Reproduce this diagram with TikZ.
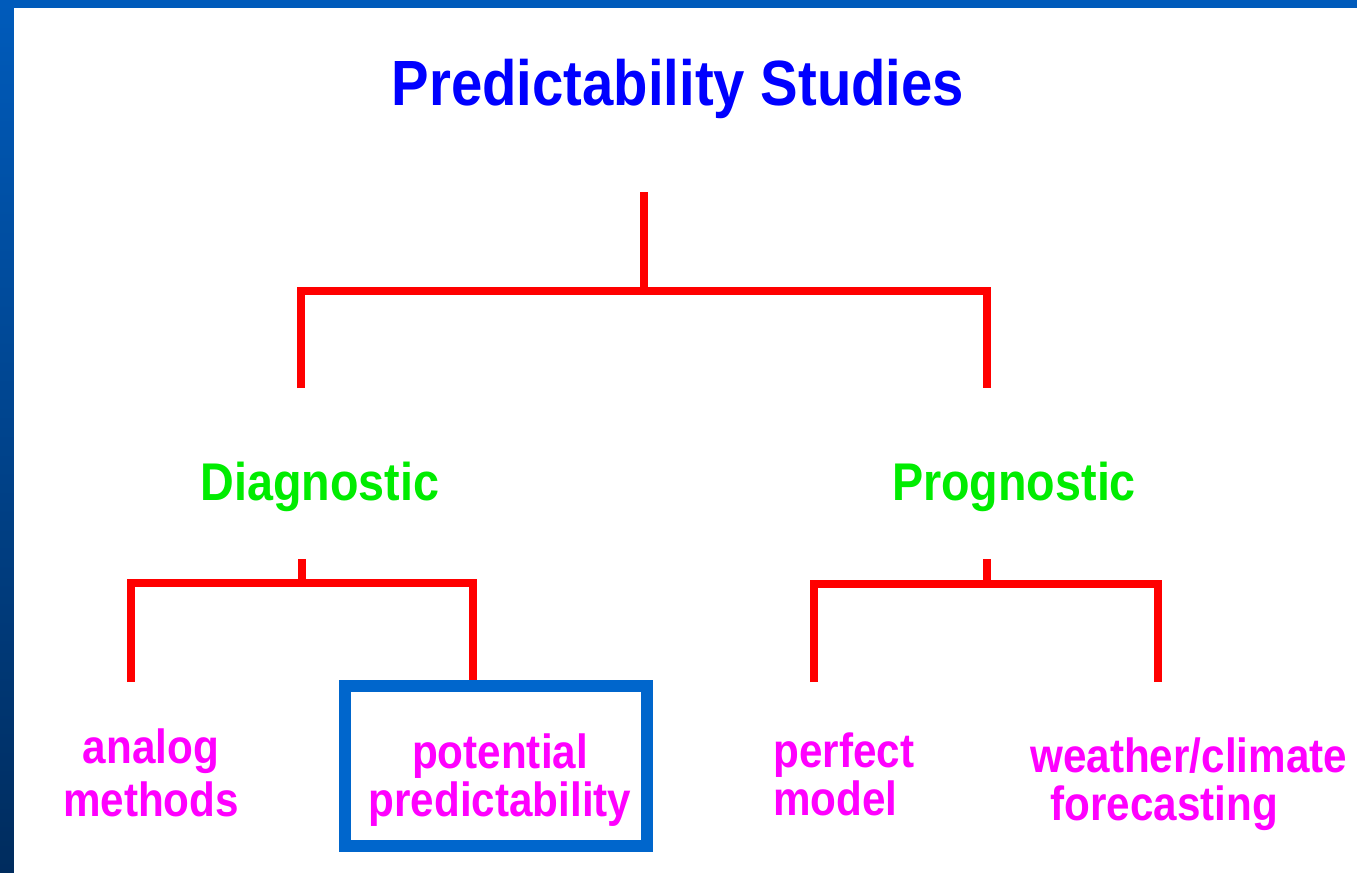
\documentclass[tikz,border=0pt]{standalone}
\usepackage{fontspec}
\setmainfont{Liberation Sans}
\newfontfamily\slidefont[FakeStretch=0.88]{Liberation Sans}
\definecolor{framebluetop}{HTML}{005BBB}
\definecolor{frameblueb}{HTML}{002C5E}
\definecolor{boxblue}{HTML}{0066CC}
\definecolor{titleblue}{HTML}{0000FF}
\definecolor{leafgreen}{HTML}{00EC00}
\definecolor{leafpink}{HTML}{FF00FF}
\begin{document}
\begin{tikzpicture}[x=0.02cm,y=-0.02cm,
  branch/.style={draw=red, line width=4.5pt},
  headline/.style={font=\slidefont\fontsize{36.4}{40}\selectfont\bfseries, text=titleblue, inner sep=0pt},
  kind/.style={font=\slidefont\fontsize{30.2}{34}\selectfont\bfseries, text=leafgreen, inner sep=0pt},
  leaf/.style={font=\slidefont\fontsize{27.3}{27.3}\selectfont\bfseries, text=leafpink, inner sep=0pt}]
\useasboundingbox (0,0) rectangle (1357,873);
% frame
\shade[top color=framebluetop, bottom color=frameblueb] (0,0) rectangle (14,873);
\fill[framebluetop] (0,0) rectangle (1357,8);
\fill[white] (14,8) rectangle (1357,873);

\node[headline, anchor=base] (title) at (678,105) {Predictability Studies};

\node[kind, anchor=base] (diag) at (320,500) {Diagnostic};
\node[kind, anchor=base] (prog) at (1014,500) {Prognostic};

\node[draw=boxblue, line width=6.8pt, minimum width=6.05cm, minimum height=3.2cm] (potbox) at (496,766) {};
\node[leaf, align=center, anchor=north, font=\slidefont\fontsize{27.3}{30.5}\selectfont\bfseries] (analog) at (151,728) {analog\\methods};
\node[leaf, align=center, anchor=north] (potential) at (500,733) {potential\\predictability};
\node[leaf, align=left, anchor=north west] (perfect) at (773,732) {perfect\\model};
\node[leaf, align=left, anchor=north west] (weather) at (1030,737) {weather/climate\\\hspace*{0.4cm}forecasting};

% top level
\coordinate (root) at (644,192);
\coordinate (rootsplit) at (644,291);
\coordinate (diagtop) at (301,388);
\coordinate (progtop) at (987,388);
\draw[branch] (root) -- (rootsplit);
\draw[branch] (diagtop) |- (rootsplit) -| (progtop);

% diagnostic side
\coordinate (diagstub) at (302,559);
\coordinate (diagsplit) at (302,583);
\coordinate (analogtop) at (131,682);
\coordinate (pottop) at (473,680);
\draw[branch] (diagstub) -- (diagsplit);
\draw[branch] (analogtop) |- (diagsplit) -| (pottop);

% prognostic side
\coordinate (progstub) at (987,559);
\coordinate (progsplit) at (987,584);
\coordinate (perfecttop) at (814,682);
\coordinate (weathertop) at (1158,682);
\draw[branch] (progstub) -- (progsplit);
\draw[branch] (perfecttop) |- (progsplit) -| (weathertop);
\end{tikzpicture}
\end{document}
